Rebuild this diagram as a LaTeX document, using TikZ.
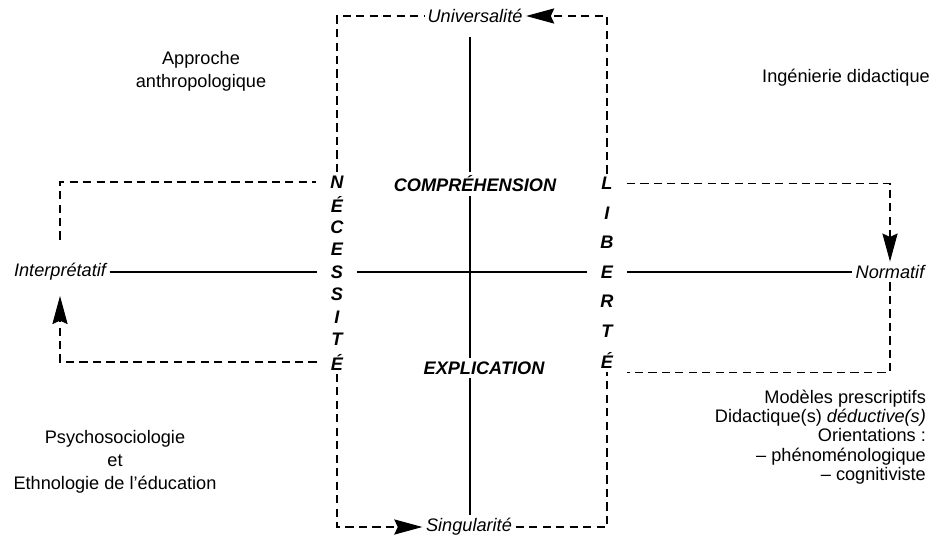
\documentclass[tikz,border=0pt]{standalone}
\usepackage{fontspec}
\setmainfont{Liberation Sans}
\usetikzlibrary{arrows.meta,positioning}
\tikzset{
  arrowed/.style={-{Stealth[length=24pt,width=13pt,inset=3pt]}},
  word/.style={font=\fontsize{15.5}{19.5}\selectfont\itshape,inner sep=3pt},
  pole/.style={font=\fontsize{15.5}{19.5}\selectfont\bfseries\itshape,inner sep=3pt},
  letter/.style={font=\fontsize{15.5}{18}\selectfont\bfseries\itshape,inner xsep=12pt,inner ysep=3pt},
  tag/.style={font=\fontsize{15.5}{19.6}\selectfont,align=center},
  mainline/.style={line width=1pt},
  dashlink/.style={line width=0.9pt,dash pattern=on 7pt off 4.5pt},
}

\begin{document}
\begin{tikzpicture}[x=0.03cm,y=-0.03cm]
  \useasboundingbox (0,0) rectangle (936,540);
  \coordinate (o) at (470,272);
  % letter columns
  \foreach \ch [count=\i] in {N,É,C,E,S,S,I,T,É}
    \node[letter] (nec-\i) at (337,{272+(\i-5)*22.5}) {\ch};
  \foreach \ch [count=\i] in {L,I,B,E,R,T,É}
    \node[letter] (lib-\i) at (607,{272+(\i-4)*29.5}) {\ch};
  % poles
  \node[word] (univ) at (475,16) {Universalité};
  \node[word] (sing) at (469,527) {Singularité};
  \node[word] (interp) at (60,272) {Interprétatif};
  \node[word] (norm) at (890,272) {Normatif};
  \node[pole] (comp) at (475,184) {COMPRÉHENSION};
  \node[pole] (expl) at (484,368) {EXPLICATION};
  % corner texts
  \node[tag] (anthro) at (201,71) {Approche\\anthropologique};
  \node[tag] (inge) at (846,78) {Ingénierie didactique};
  \node[tag] (psycho) at (115,462) {Psychosociologie\\et\\Ethnologie de l'éducation};
  \node[tag,align=right,anchor=east,font=\fontsize{15.5}{16.4}\selectfont] (presc) at (930,437)
    {Modèles prescriptifs\\Didactique(s) \textit{déductive(s)}\\Orientations :\\– phénoménologique\\– cognitiviste};
  % axes
  \draw[mainline] (interp) -- (nec-5);
  \draw[mainline] (nec-5) -- (lib-4);
  \draw[mainline] (lib-4) -- (norm);
  \draw[mainline,shorten <=3mm] (o |- univ.south) -- (o |- comp.north);
  \draw[mainline] (o |- comp.south) -- (o |- expl.north);
  \draw[mainline] (o |- expl.south) -- (o |- sing.north);
  % dashed loops
  \draw[dashlink] (nec-1.north) |- (univ.west);
  \draw[dashlink,arrowed] (lib-1.north) |- (univ.east);
  \draw[dashlink,arrowed] (nec-9.south) |- (sing.west);
  \draw[dashlink] (sing.east) -| (lib-7.south);
  \draw[dashlink,shorten <=6mm] (interp.north) |- (nec-1.west);
  \draw[dashlink,arrowed,shorten >=3.5mm] (nec-9.west) -| (interp.south);
  \draw[dashlink,arrowed] (lib-1.east) -| (norm.north);
  \draw[dashlink] (norm.south) |- (lib-7.south east);
\end{tikzpicture}
\end{document}
